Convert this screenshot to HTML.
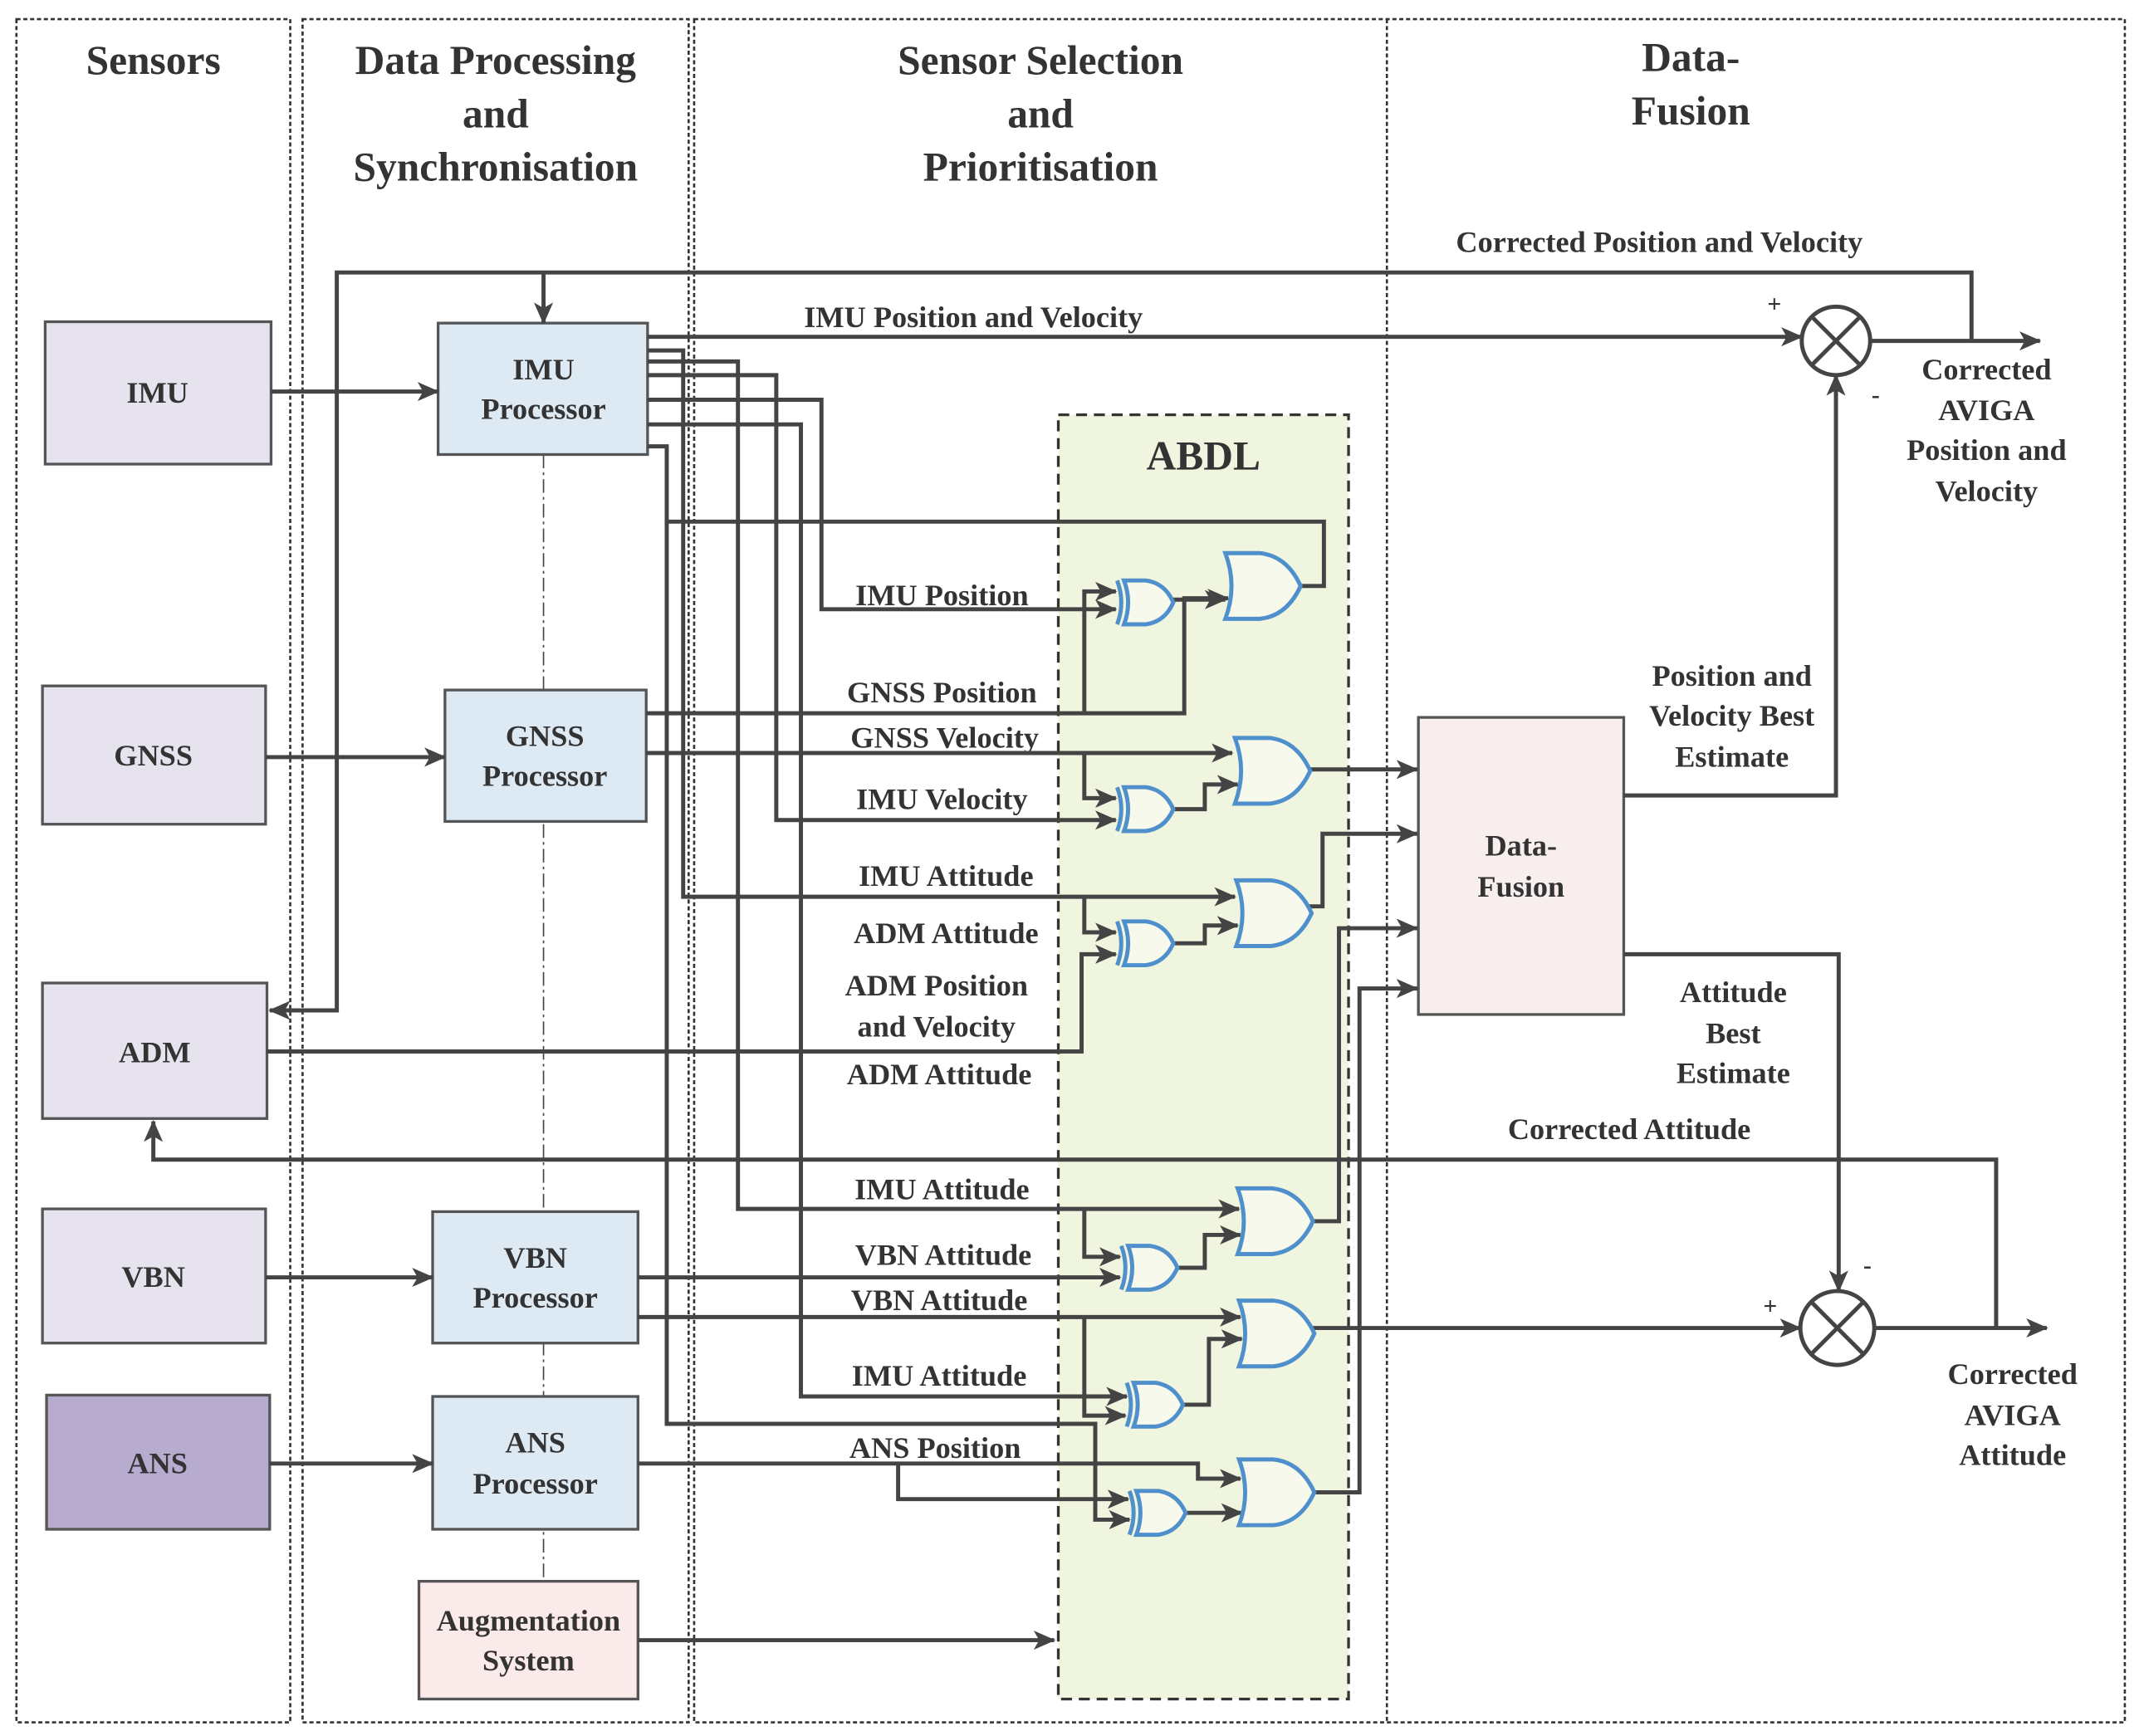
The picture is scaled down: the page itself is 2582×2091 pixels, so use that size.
<!DOCTYPE html>
<html><head><meta charset="utf-8"><style>
html,body{margin:0;padding:0;background:#fff}
svg{display:block}
text{font-family:"Liberation Serif",serif;font-weight:bold;fill:#333}
</style></head><body>
<svg width="2582" height="2091" viewBox="0 0 1566 1268" preserveAspectRatio="none" xmlns="http://www.w3.org/2000/svg">
<defs>
<marker id="a" markerWidth="16" markerHeight="14" refX="15" refY="7" orient="auto" markerUnits="userSpaceOnUse" viewBox="0 0 16 14"><path d="M0,0 L16,7 L0,14 L4,7 z" fill="#444"/></marker>
<g id="or"><path d="M0,0 H25 Q45,2 55,24 Q45,46 25,48 H0 Q9,24 0,0 z" fill="#f6f9ec" stroke="#4f90cc" stroke-width="3"/></g>
<g id="xor"><path d="M6,0 H22 Q36,2 42,16 Q36,30 22,32 H6 Q12,16 6,0 z" fill="#f6f9ec" stroke="#4f90cc" stroke-width="3"/><path d="M1,0 Q7,16 1,32" fill="none" stroke="#4f90cc" stroke-width="3"/></g>
</defs>
<g fill="none" stroke="#333" stroke-width="1.6" stroke-dasharray="3,2">
<rect x="12" y="14" width="200" height="1244"/>
<rect x="221" y="14" width="282" height="1244"/>
<rect x="507" y="14" width="1045" height="1244"/>
<line x1="1013" y1="14" x2="1013" y2="1258"/>
</g>
<g font-size="30" text-anchor="middle">
<text x="112" y="54">Sensors</text>
<text x="362" y="54">Data Processing</text><text x="362" y="93">and</text><text x="362" y="132">Synchronisation</text>
<text x="760" y="54">Sensor Selection</text><text x="760" y="93">and</text><text x="760" y="132">Prioritisation</text>
<text x="1235" y="52">Data-</text><text x="1235" y="91">Fusion</text>
</g>
<rect x="773" y="303" width="212" height="938" fill="#eff5de" stroke="#333" stroke-width="2" stroke-dasharray="8,5"/>
<text x="879" y="343" font-size="30" text-anchor="middle">ABDL</text>
<line x1="397" y1="332" x2="397" y2="1155" stroke="#444" stroke-width="1" stroke-dasharray="10,3,2,3"/>
<g stroke="#555" stroke-width="2">
<rect x="33" y="235" width="165" height="104" fill="#e6e3ee"/>
<rect x="31" y="501" width="163" height="101" fill="#e6e3ee"/>
<rect x="31" y="718" width="164" height="99" fill="#e6e3ee"/>
<rect x="31" y="883" width="163" height="98" fill="#e6e3ee"/>
<rect x="34" y="1019" width="163" height="98" fill="#b7acd0"/>
<rect x="320" y="236" width="153" height="96" fill="#dde9f3"/>
<rect x="325" y="504" width="147" height="96" fill="#dde9f3"/>
<rect x="316" y="885" width="150" height="96" fill="#dde9f3"/>
<rect x="316" y="1020" width="150" height="97" fill="#dde9f3"/>
<rect x="306" y="1155" width="160" height="86" fill="#fbeaea"/>
<rect x="1036" y="524" width="150" height="217" fill="#f8eeee"/>
</g>
<g font-size="22" text-anchor="middle">
<text x="115" y="294">IMU</text><text x="112" y="559">GNSS</text><text x="113" y="776">ADM</text><text x="112" y="940">VBN</text><text x="115" y="1076">ANS</text>
<text x="397" y="277">IMU</text><text x="397" y="306">Processor</text>
<text x="398" y="545">GNSS</text><text x="398" y="574">Processor</text>
<text x="391" y="926">VBN</text><text x="391" y="955">Processor</text>
<text x="391" y="1061">ANS</text><text x="391" y="1091">Processor</text>
<text x="386" y="1191">Augmentation</text><text x="386" y="1220">System</text>
<text x="1111" y="625">Data-</text><text x="1111" y="655">Fusion</text>
<text x="1212" y="184">Corrected Position and Velocity</text>
<text x="711" y="239">IMU Position and Velocity</text>
<text x="1265" y="501">Position and</text><text x="1265" y="530">Velocity Best</text><text x="1265" y="560">Estimate</text>
<text x="1266" y="732">Attitude</text><text x="1266" y="762">Best</text><text x="1266" y="791">Estimate</text>
<text x="1451" y="277">Corrected</text><text x="1451" y="307">AVIGA</text><text x="1451" y="336">Position and</text><text x="1451" y="366">Velocity</text>
<text x="1470" y="1011">Corrected</text><text x="1470" y="1041">AVIGA</text><text x="1470" y="1070">Attitude</text>
<text x="1190" y="832">Corrected Attitude</text>
<text x="688" y="442">IMU Position</text>
<text x="688" y="513">GNSS Position</text>
<text x="690" y="546">GNSS Velocity</text>
<text x="688" y="591">IMU Velocity</text>
<text x="691" y="647">IMU Attitude</text>
<text x="691" y="689">ADM  Attitude</text>
<text x="684" y="727">ADM Position</text><text x="684" y="757">and Velocity</text>
<text x="686" y="792">ADM  Attitude</text>
<text x="688" y="876">IMU Attitude</text>
<text x="689" y="924">VBN Attitude</text>
<text x="686" y="957">VBN Attitude</text>
<text x="686" y="1012">IMU Attitude</text>
<text x="683" y="1065">ANS Position</text>
<text x="1296" y="228" font-size="18">+</text><text x="1370" y="294" font-size="18">-</text>
<text x="1293" y="960" font-size="18">+</text><text x="1364" y="930" font-size="18">-</text>
</g>
<g fill="#fff" stroke="#444" stroke-width="3">
<circle cx="1341" cy="249" r="25"/><circle cx="1342" cy="970" r="27"/>
</g>
<g stroke="#444" stroke-width="3">
<line x1="1323" y1="231" x2="1359" y2="267"/><line x1="1359" y1="231" x2="1323" y2="267"/>
<line x1="1323" y1="951" x2="1361" y2="989"/><line x1="1361" y1="951" x2="1323" y2="989"/>
</g>
<g fill="none" stroke="#444" stroke-width="3">
<path d="M1440,249 V199 H246 V738 H197" marker-end="url(#a)"/>
<path d="M397,199 V236" marker-end="url(#a)"/>
<path d="M198,286 H320" marker-end="url(#a)"/>
<path d="M473,246 H1316" marker-end="url(#a)"/>
<path d="M1366,249 H1490" marker-end="url(#a)"/>
<path d="M1186,581 H1341 V274" marker-end="url(#a)"/>
<path d="M1186,697 H1343 V943" marker-end="url(#a)"/>
<path d="M952,970 H1315" marker-end="url(#a)"/>
<path d="M1369,970 H1495" marker-end="url(#a)"/>
<path d="M1458,970 V847 H112 V819" marker-end="url(#a)"/>
<path d="M194,553 H325" marker-end="url(#a)"/>
<path d="M195,768 H790 V697 H815" marker-end="url(#a)"/>
<path d="M194,933 H316" marker-end="url(#a)"/>
<path d="M197,1069 H316" marker-end="url(#a)"/>
<path d="M466,1198 H770" marker-end="url(#a)"/>
<path d="M473,256 H499 V655 H902" marker-end="url(#a)"/>
<path d="M473,264 H539 V883 H905" marker-end="url(#a)"/>
<path d="M473,274 H567 V599 H815" marker-end="url(#a)"/>
<path d="M473,292 H600 V445 H815" marker-end="url(#a)"/>
<path d="M473,310 H585 V1020 H823" marker-end="url(#a)"/>
<path d="M473,326 H487 V1040 H800 V1110 H825" marker-end="url(#a)"/>
<path d="M487,381 H967 V428 H950"/>
<path d="M472,521 H865 V437 H897" marker-end="url(#a)"/>
<path d="M792,521 V432 H815" marker-end="url(#a)"/>
<path d="M472,550 H900" marker-end="url(#a)"/>
<path d="M792,550 V583 H815" marker-end="url(#a)"/>
<path d="M857,438 H895" marker-end="url(#a)"/>
<path d="M858,591 H880 V573 H904" marker-end="url(#a)"/>
<path d="M858,689 H880 V676 H904" marker-end="url(#a)"/>
<path d="M858,926 H880 V902 H906" marker-end="url(#a)"/>
<path d="M862,1026 H883 V978 H907" marker-end="url(#a)"/>
<path d="M862,1105 H907" marker-end="url(#a)"/>
<path d="M792,655 V681 H815" marker-end="url(#a)"/>
<path d="M792,883 V918 H818" marker-end="url(#a)"/>
<path d="M466,933 H818" marker-end="url(#a)"/>
<path d="M466,962 H906" marker-end="url(#a)"/>
<path d="M792,962 V1034 H822" marker-end="url(#a)"/>
<path d="M466,1069 H875 V1080 H906" marker-end="url(#a)"/>
<path d="M656,1069 V1095 H824" marker-end="url(#a)"/>
<path d="M955,562 H1035" marker-end="url(#a)"/>
<path d="M952,662 H966 V609 H1035" marker-end="url(#a)"/>
<path d="M953,892 H978 V678 H1035" marker-end="url(#a)"/>
<path d="M960,1090 H993 V722 H1035" marker-end="url(#a)"/>
</g>
<use href="#xor" x="815" y="424"/><use href="#or" x="895" y="404"/>
<use href="#or" x="902" y="539"/><use href="#xor" x="815" y="575"/>
<use href="#or" x="903" y="643"/><use href="#xor" x="815" y="673"/>
<use href="#or" x="904" y="868"/><use href="#xor" x="818" y="910"/>
<use href="#or" x="905" y="950"/><use href="#xor" x="822" y="1010"/>
<use href="#or" x="905" y="1066"/><use href="#xor" x="824" y="1089"/>
</svg>
</body></html>
